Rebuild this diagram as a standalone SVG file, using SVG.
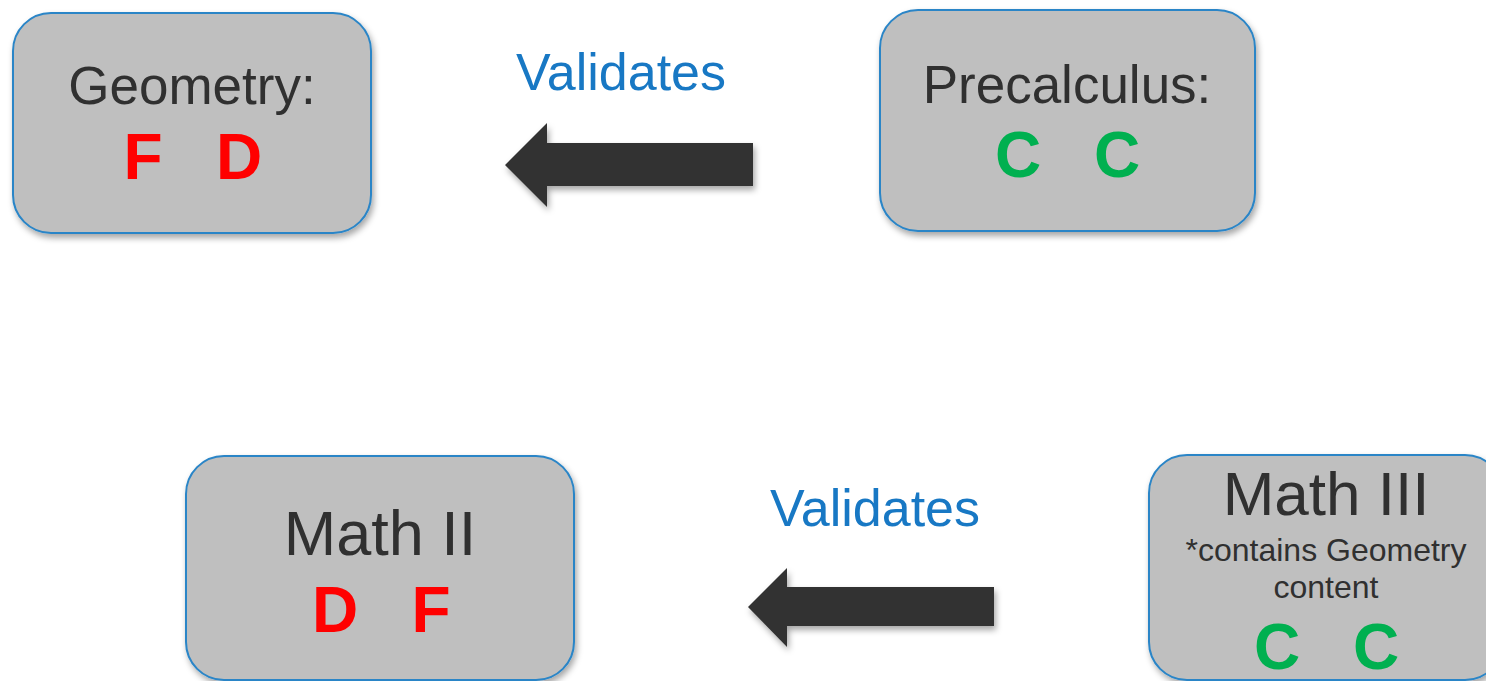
<svg xmlns="http://www.w3.org/2000/svg" width="1486" height="681" viewBox="0 0 1486 681">
<defs>
<filter id="sh" x="-10%" y="-10%" width="125%" height="130%">
<feDropShadow dx="2" dy="4" stdDeviation="3" flood-color="#000" flood-opacity="0.35"/>
</filter>
<style>
.box{fill:#BFBFBF;stroke:#2A85C7;stroke-width:2}
.t{font-family:"Liberation Sans",Arial,sans-serif;fill:#303030;text-anchor:middle}
.lbl{font-family:"Liberation Sans",Arial,sans-serif;fill:#1878C4;text-anchor:middle;font-size:52px}
.red{font-family:"Liberation Sans",Arial,sans-serif;fill:#FF0000;font-weight:bold;text-anchor:middle;font-size:64px}
.grn{font-family:"Liberation Sans",Arial,sans-serif;fill:#00B050;font-weight:bold;text-anchor:middle;font-size:64px}
.arr{fill:#333333}
</style>
</defs>
<rect width="1486" height="681" fill="#FFFFFF"/>
<g id="geometry">
<rect class="box" x="13" y="13" width="358" height="220" rx="38" filter="url(#sh)"/>
<text class="t" x="192" y="104" font-size="53">Geometry:</text>
<text class="red" y="179"><tspan x="143">F</tspan><tspan x="239">D</tspan></text>
</g>
<g id="precalculus">
<rect class="box" x="880" y="10" width="375" height="221" rx="38" filter="url(#sh)"/>
<text class="t" x="1067" y="103" font-size="53">Precalculus:</text>
<text class="grn" y="177"><tspan x="1018">C</tspan><tspan x="1117">C</tspan></text>
</g>
<g id="math2">
<rect class="box" x="186" y="456" width="388" height="224" rx="38" filter="url(#sh)"/>
<text class="t" x="380" y="555" font-size="63">Math II</text>
<text class="red" y="632"><tspan x="335">D</tspan><tspan x="431">F</tspan></text>
</g>
<g id="math3">
<rect class="box" x="1149" y="455" width="354" height="225" rx="38" filter="url(#sh)"/>
<text class="t" x="1326" y="515" font-size="62">Math III</text>
<text class="t" x="1326" y="561" font-size="32">*contains Geometry</text>
<text class="t" x="1326" y="598" font-size="32">content</text>
<text class="grn" y="669" font-size="63"><tspan x="1277">C</tspan><tspan x="1376">C</tspan></text>
</g>
<g id="connectors">
<polygon class="arr" points="753,143 547,143 547,123 505,165 547,207 547,186 753,186" filter="url(#sh)"/>
<text class="lbl" x="621" y="90">Validates</text>
<polygon class="arr" points="994,587 787,587 787,568 748,607 787,647 787,626 994,626" filter="url(#sh)"/>
<text class="lbl" x="875" y="526">Validates</text>
</g>
</svg>
